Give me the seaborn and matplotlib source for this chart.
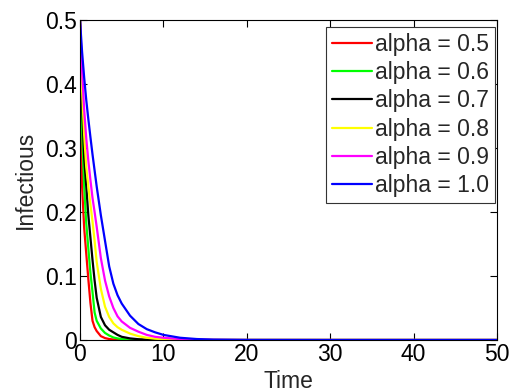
import numpy as np
import pandas as pd
import matplotlib
matplotlib.use("Agg")
import matplotlib.pyplot as plt
import seaborn as sns

time = [0, 0.25, 0.5, 0.75, 1, 1.25, 1.5, 1.75, 2, 2.5, 3, 3.5, 4, 4.5, 5, 6, 7, 8, 9, 10, 12, 14, 16, 20, 30, 40, 50]

alpha_05 = [0.5, 0.24, 0.175, 0.135, 0.095, 0.058, 0.03, 0.02, 0.014, 0.006, 0.003, 0.0015, 0.0008, 0.0004, 0.0002, 0, 0, 0, 0, 0, 0, 0, 0, 0, 0, 0, 0]
alpha_06 = [0.5, 0.33, 0.24, 0.183, 0.143, 0.105, 0.075, 0.043, 0.03, 0.018, 0.011, 0.007, 0.004, 0.0025, 0.0015, 0.0005, 0.0002, 0, 0, 0, 0, 0, 0, 0, 0, 0, 0]
alpha_07 = [0.5, 0.37, 0.285, 0.24, 0.195, 0.16, 0.125, 0.093, 0.066, 0.036, 0.023, 0.016, 0.012, 0.008, 0.005, 0.0025, 0.0012, 0.0005, 0.0002, 0, 0, 0, 0, 0, 0, 0, 0]
alpha_08 = [0.5, 0.39, 0.32, 0.27, 0.24, 0.212, 0.185, 0.155, 0.122, 0.08, 0.052, 0.036, 0.026, 0.02, 0.016, 0.01, 0.006, 0.0035, 0.002, 0.0012, 0.0004, 0.0001, 0, 0, 0, 0, 0]
alpha_09 = [0.5, 0.42, 0.36, 0.315, 0.28, 0.25, 0.222, 0.2, 0.177, 0.128, 0.093, 0.068, 0.05, 0.037, 0.029, 0.019, 0.013, 0.008, 0.005, 0.0035, 0.0015, 0.0006, 0.0002, 0, 0, 0, 0]
alpha_10 = [0.5, 0.45, 0.41, 0.375, 0.345, 0.317, 0.29, 0.265, 0.24, 0.195, 0.155, 0.115, 0.088, 0.07, 0.057, 0.038, 0.025, 0.017, 0.012, 0.008, 0.0035, 0.0015, 0.0006, 0.0001, 0, 0, 0]

labels = ["alpha = 0.5", "alpha = 0.6", "alpha = 0.7", "alpha = 0.8", "alpha = 0.9", "alpha = 1.0"]
series = [alpha_05, alpha_06, alpha_07, alpha_08, alpha_09, alpha_10]
colors = ["#ff0000", "#00ff00", "#000000", "#ffff00", "#ff00ff", "#0000ff"]

x_ticks = [0, 10, 20, 30, 40, 50]
y_ticks = [0, 0.1, 0.2, 0.3, 0.4, 0.5]
y_tick_labels = ["0", "0.1", "0.2", "0.3", "0.4", "0.5"]

rows = []
for lab, vals in zip(labels, series):
    for t, v in zip(time, vals):
        rows.append({"Time": t, "Infectious": v, "series": lab})
df = pd.DataFrame(rows)

sns.set_style("white")
plt.rcParams["font.family"] = ["Liberation Sans", "DejaVu Sans"]
fs = 16.5

fig = plt.figure(figsize=(5.15, 3.92), dpi=100)
ax = fig.add_axes([80 / 515, 52 / 392, 417 / 515, 320 / 392])

sns.lineplot(data=df, x="Time", y="Infectious", hue="series", hue_order=labels,
             palette=dict(zip(labels, colors)), linewidth=1.6, ax=ax, legend=False)

ax.set_xlim(0, 50)
ax.set_ylim(0, 0.5)
ax.set_xticks(x_ticks)
ax.set_xticklabels([str(v) for v in x_ticks], fontsize=fs)
ax.set_yticks(y_ticks)
ax.set_yticklabels(y_tick_labels, fontsize=fs)
ax.set_xlabel("Time", fontsize=fs, labelpad=3)
ax.set_ylabel("Infectious", fontsize=fs, labelpad=6)
ax.tick_params(direction="in", length=5, width=0.8, top=True, right=True,
               bottom=True, left=True, pad=2, colors="black")
for s in ax.spines.values():
    s.set_visible(True)
    s.set_color("black")
    s.set_linewidth(0.8)

handles = [plt.Line2D([], [], color=c, linewidth=1.6) for c in colors]
leg = ax.legend(handles, labels, loc="upper right", bbox_to_anchor=(0.995, 0.978),
                fontsize=fs, frameon=True, fancybox=False, framealpha=1,
                edgecolor="#333333", handlelength=1.75, handletextpad=0.13,
                labelspacing=0.23, borderpad=0.25, borderaxespad=0)
leg.get_frame().set_linewidth(0.8)

fig.savefig("out.png", dpi=100, facecolor="white")
